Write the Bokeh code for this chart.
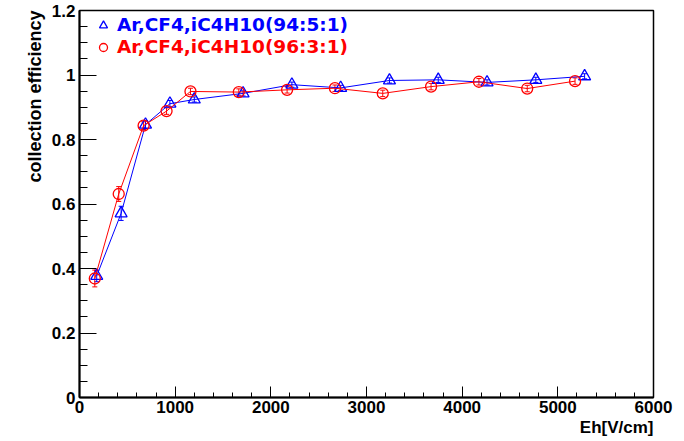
from bokeh.plotting import figure
from bokeh.models import (FixedTicker, CustomJSTickFormatter, Whisker, ColumnDataSource,
                          Legend, LegendItem, Title, TeeHead, Range1d)
from bokeh.embed import file_html
from bokeh.resources import INLINE

# ---- data ----
blue_label = "Ar,CF4,iC4H10(94:5:1)"
blue_x = [180, 435, 690, 945, 1200, 1710, 2220, 2730, 3240, 3750, 4260, 4770, 5280]
blue_y = [0.377, 0.571, 0.846, 0.911, 0.924, 0.943, 0.970, 0.960, 0.983, 0.985, 0.977, 0.985, 0.996]
blue_err = [0.018, 0.022, 0.012, 0.010, 0.008, 0.008, 0.008, 0.008, 0.008, 0.008, 0.008, 0.008, 0.008]

red_label = "Ar,CF4,iC4H10(96:3:1)"
red_x = [160, 410, 670, 910, 1160, 1665, 2170, 2670, 3170, 3675, 4175, 4680, 5180]
red_y = [0.369, 0.631, 0.843, 0.888, 0.949, 0.947, 0.954, 0.959, 0.943, 0.964, 0.979, 0.958, 0.981]
red_err = [0.026, 0.023, 0.012, 0.010, 0.010, 0.010, 0.010, 0.010, 0.010, 0.010, 0.010, 0.010, 0.010]

x_ticks = [0, 1000, 2000, 3000, 4000, 5000, 6000]
x_minor = [i * 200 for i in range(31)]
y_ticks = [0, 0.2, 0.4, 0.6, 0.8, 1.0, 1.2]
y_minor = [round(i * 0.05, 2) for i in range(25)]

x_title = "Eh[V/cm]"
y_title = "collection efficiency"

FONT = "Liberation Sans"

p = figure(width=684, height=441, output_backend="svg", toolbar_location=None,
           x_range=Range1d(0, 6000), y_range=Range1d(0, 1.2),
           min_border_left=79, min_border_right=31, min_border_top=10, min_border_bottom=44)
p.grid.visible = False
p.outline_line_color = "black"
p.outline_line_width = 1.5
p.background_fill_color = "white"
p.border_fill_color = "white"

for ax in (p.xaxis[0], p.yaxis[0]):
    ax.axis_line_width = 2
    ax.major_tick_out = 0
    ax.minor_tick_out = 0
    ax.major_label_text_font = FONT
    ax.major_label_text_font_style = "bold"
    ax.major_label_text_font_size = "17px"
    ax.major_label_text_color = "black"
    ax.major_tick_line_color = "black"
    ax.minor_tick_line_color = "black"

p.xaxis.ticker = FixedTicker(ticks=x_ticks, minor_ticks=x_minor)
p.xaxis.major_tick_in = 11
p.xaxis.minor_tick_in = 5
p.xaxis.major_label_standoff = 3

p.yaxis.ticker = FixedTicker(ticks=y_ticks, minor_ticks=y_minor)
p.yaxis.major_tick_in = 17
p.yaxis.minor_tick_in = 8
p.yaxis.major_label_standoff = 4
p.yaxis.formatter = CustomJSTickFormatter(code="return String(Number(tick.toFixed(2)));")


def series(xs, ys, es, color, marker, size):
    p.line(xs, ys, line_color=color, line_width=1)
    src = ColumnDataSource(dict(x=xs, upper=[y + e for y, e in zip(ys, es)],
                                lower=[y - e for y, e in zip(ys, es)]))
    w = Whisker(base="x", upper="upper", lower="lower", source=src,
                line_color=color, line_width=1,
                upper_head=TeeHead(size=5, line_color=color, line_width=1),
                lower_head=TeeHead(size=5, line_color=color, line_width=1))
    p.add_layout(w)
    r = p.scatter(xs, ys, marker=marker, size=size, line_color=color,
                  fill_color=None, line_width=1.3)
    return r


rb = series(blue_x, blue_y, blue_err, "#0000ff", "triangle", 12)
rr = series(red_x, red_y, red_err, "#ff0000", "circle", 11)


def legend(label, r, color, loc):
    lg = Legend(items=[LegendItem(label=label, renderers=[r])], location=loc,
                label_text_color=color, label_text_font="DejaVu Sans", label_text_font_style="bold",
                label_text_font_size="18.5px", glyph_width=20, glyph_height=20,
                label_height=20, label_standoff=4, padding=0, margin=0,
                border_line_color=None, background_fill_alpha=0)
    p.add_layout(lg)


legend(blue_label, rb, "#0000ff", (14, 362))
legend(red_label, rr, "#ff0000", (14, 340))

ty = Title(text=y_title, align="right", text_font=FONT, text_font_style="bold",
           text_font_size="18px", text_color="black", standoff=8)
p.add_layout(ty, "left")
tx = Title(text=x_title, align="right", text_font=FONT, text_font_style="bold",
           text_font_size="17px", text_color="black", standoff=0)
p.add_layout(tx, "below")

open("out.html", "w").write(file_html(p, INLINE))
